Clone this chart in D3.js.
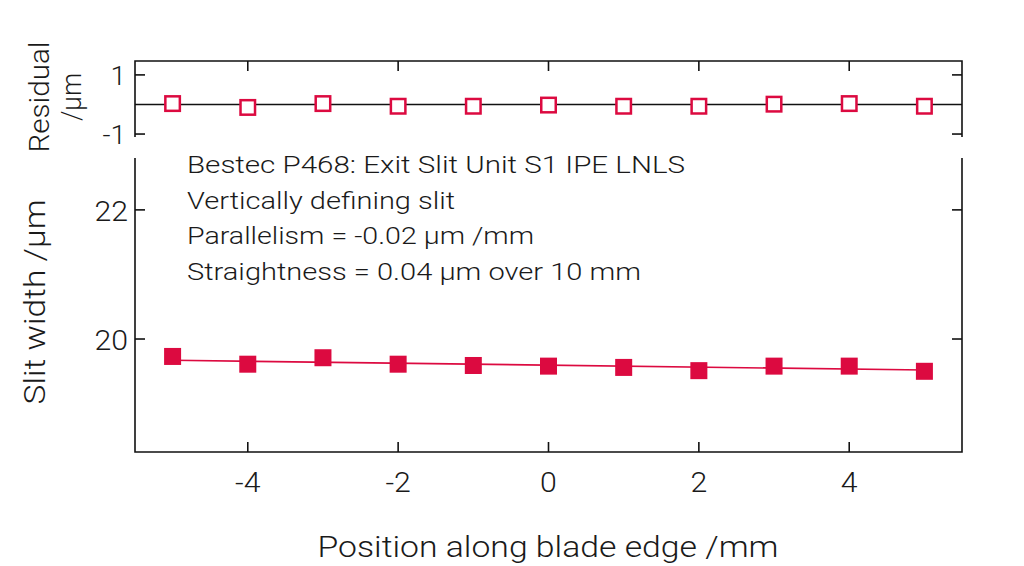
<!DOCTYPE html>
<html><head><meta charset="utf-8">
<script src="https://cdn.jsdelivr.net/npm/d3@7"></script>
<style>body{margin:0;background:#fff}svg text{font-family:Roboto,"Liberation Sans",Arial,sans-serif;font-weight:300;fill:#1a1a1a}</style>
</head><body><svg id="c" width="1024" height="566"></svg>
<script>
const positions = [-5,-4,-3,-2,-1,0,1,2,3,4,5];
const slitWidth = [19.73,19.61,19.71,19.61,19.59,19.58,19.56,19.51,19.58,19.58,19.50];
const residuals = [0.03,-0.10,0.03,-0.06,-0.06,-0.02,-0.06,-0.06,0.01,0.03,-0.06];
const fitX = [-5,5];
const fitY = [19.67,19.52];
const xTicks = [-4,-2,0,2,4];
const yTicks = [20,22];
const rTicks = [-1,1];
const infoLines = ["Bestec P468: Exit Slit Unit S1 IPE LNLS","Vertically defining slit","Parallelism = -0.02 µm /mm","Straightness = 0.04 µm over 10 mm"];

const col = "#dc0a40";
const svg = d3.select("#c");
const L = 135, R = 962;
const x = d3.scaleLinear().domain([-5.5,5.5]).range([L,R]);
const y = d3.scaleLinear().domain([18.25,22.85]).range([452,155]);
const yr = d3.scaleLinear().domain([-1.1,1.47]).range([137,61]);

function fit(sel, len){ sel.attr("textLength",len).attr("lengthAdjust","spacingAndGlyphs"); return sel; }

svg.append("path").attr("d",`M${L},137V61H${R}V137`).attr("fill","none").attr("stroke","#111").attr("stroke-width",1.6);
svg.append("path").attr("d",`M${L},158V452H${R}V158`).attr("fill","none").attr("stroke","#111").attr("stroke-width",1.6);

const tk = 10;
xTicks.forEach(v=>{
  svg.append("line").attr("x1",x(v)).attr("x2",x(v)).attr("y1",452).attr("y2",452-tk).attr("stroke","#111").attr("stroke-width",1.6);
  svg.append("line").attr("x1",x(v)).attr("x2",x(v)).attr("y1",61).attr("y2",61+tk).attr("stroke","#111").attr("stroke-width",1.6);
  const t = svg.append("text").attr("x",x(v)).attr("y",492).attr("text-anchor","middle").attr("font-size",27).text(v);
  fit(t, t.node().getComputedTextLength()*1.12);
});
yTicks.forEach(v=>{
  svg.append("line").attr("x1",L).attr("x2",L+tk).attr("y1",y(v)).attr("y2",y(v)).attr("stroke","#111").attr("stroke-width",1.6);
  svg.append("line").attr("x1",R).attr("x2",R-tk).attr("y1",y(v)).attr("y2",y(v)).attr("stroke","#111").attr("stroke-width",1.6);
  const t = svg.append("text").attr("x",128).attr("y",y(v)+11).attr("text-anchor","end").attr("font-size",27).text(v);
  fit(t, t.node().getComputedTextLength()*1.12);
});
rTicks.forEach(v=>{
  svg.append("line").attr("x1",L).attr("x2",L+tk).attr("y1",yr(v)).attr("y2",yr(v)).attr("stroke","#111").attr("stroke-width",1.6);
  svg.append("line").attr("x1",R).attr("x2",R-tk).attr("y1",yr(v)).attr("y2",yr(v)).attr("stroke","#111").attr("stroke-width",1.6);
  const t = svg.append("text").attr("x",126).attr("y",yr(v)+10).attr("text-anchor","end").attr("font-size",25).text(v);
  fit(t, t.node().getComputedTextLength()*1.12);
});
svg.append("line").attr("x1",L).attr("x2",R).attr("y1",yr(0)).attr("y2",yr(0)).attr("stroke","#111").attr("stroke-width",1.6);

svg.append("path").datum(fitX.map((v,i)=>[v,fitY[i]]))
  .attr("d",d3.line().x(d=>x(d[0])).y(d=>y(d[1]))).attr("fill","none").attr("stroke",col).attr("stroke-width",1.6);

const s = 17;
svg.selectAll(".m").data(positions).enter().append("rect")
  .attr("x",d=>x(d)-s/2).attr("y",(d,i)=>y(slitWidth[i])-s/2).attr("width",s).attr("height",s).attr("fill",col);
const rs = 14.5;
svg.selectAll(".r").data(positions).enter().append("rect")
  .attr("x",d=>x(d)-rs/2).attr("y",(d,i)=>yr(residuals[i])-rs/2).attr("width",rs).attr("height",rs)
  .attr("fill","#fff").attr("stroke",col).attr("stroke-width",2.5);

const infoLens = [498,268,347,454];
infoLines.forEach((t,i)=>{
  fit(svg.append("text").attr("x",187).attr("y",173+i*35.5).attr("font-size",23).text(t), infoLens[i]);
});

fit(svg.append("text").attr("x",548).attr("y",557).attr("text-anchor","middle").attr("font-size",29).text("Position along blade edge /mm"),461);
fit(svg.append("text").attr("transform","translate(45,302) rotate(-90)").attr("text-anchor","middle").attr("font-size",30).text("Slit width /µm"),205);
fit(svg.append("text").attr("transform","translate(49,97) rotate(-90)").attr("text-anchor","middle").attr("font-size",27).text("Residual"),111);
fit(svg.append("text").attr("transform","translate(81,97) rotate(-90)").attr("text-anchor","middle").attr("font-size",27).text("/µm"),48);
</script></body></html>
